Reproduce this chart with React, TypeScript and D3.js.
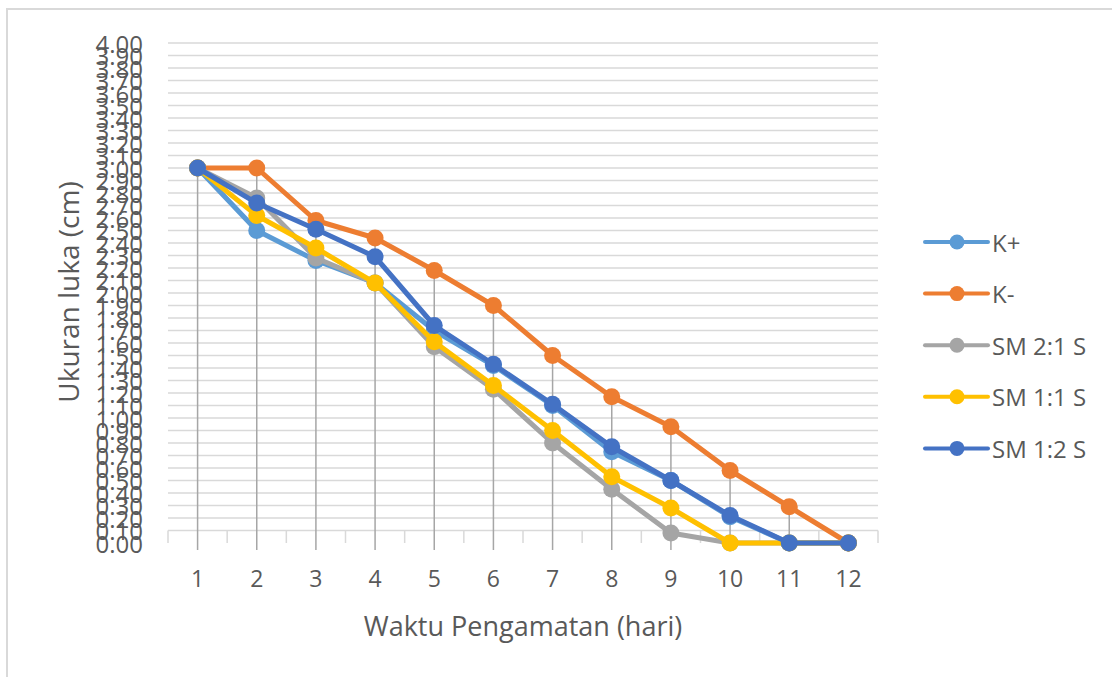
import React from "react";
import * as d3 from "d3";

const days = [1, 2, 3, 4, 5, 6, 7, 8, 9, 10, 11, 12];
const seriesNames = ["K+", "K-", "SM 2:1 S", "SM 1:1 S", "SM 1:2 S"];
const seriesColors = ["#5B9BD5", "#ED7D31", "#A5A5A5", "#FFC000", "#4472C4"];
const kPlus = [3.0, 2.5, 2.26, 2.08, 1.7, 1.42, 1.1, 0.73, 0.5, 0.21, 0, 0];
const kMinus = [3.0, 3.0, 2.58, 2.44, 2.18, 1.9, 1.5, 1.17, 0.93, 0.58, 0.29, 0];
const sm21 = [3.0, 2.76, 2.28, 2.08, 1.57, 1.23, 0.8, 0.43, 0.08, 0, 0, 0];
const sm11 = [3.0, 2.62, 2.36, 2.08, 1.61, 1.26, 0.9, 0.53, 0.28, 0, 0, 0];
const sm12 = [3.0, 2.72, 2.51, 2.29, 1.74, 1.43, 1.11, 0.77, 0.5, 0.22, 0, 0];
const seriesValues = [kPlus, kMinus, sm21, sm11, sm12];
const yTicks = d3.range(0, 41).map((i) => i / 10);

const W = 1112;
const H = 677;
const FONT = "'Open Sans', 'Noto Sans', sans-serif";

export default function App() {
  const left = 168;
  const right = 878;
  const top = 43;
  const bottom = 543;

  const x = d3
    .scaleBand<number>()
    .domain(days)
    .range([left, right]);
  const cx = (d: number) => (x(d) as number) + x.bandwidth() / 2;
  const y = d3.scaleLinear().domain([0, 4]).range([bottom, top]);

  const line = d3
    .line<number>()
    .x((_, i) => cx(days[i]))
    .y((v) => y(v));

  const maxAt = days.map((_, i) => d3.max(seriesValues, (s) => s[i]) as number);

  return (
    <svg
      width={W}
      height={H}
      style={{ position: "absolute", left: 0, top: 0, background: "#fff" }}
      fontFamily={FONT}
    >
      <rect x={7} y={9} width={W + 10} height={H + 10} fill="#fff" stroke="#d9d9d9" strokeWidth={2} />
      {/* gridlines */}
      {yTicks
        .filter((t) => t > 0)
        .map((t) => (
          <line key={"g" + t} x1={left} x2={right} y1={y(t)} y2={y(t)} stroke="#d9d9d9" strokeWidth={1.5} />
        ))}
      {/* category boundary ticks */}
      {d3.range(0, days.length + 1).map((i) => {
        const xx = left + i * x.step();
        return <line key={"t" + i} x1={xx} x2={xx} y1={y(0.1)} y2={bottom} stroke="#d9d9d9" strokeWidth={1.5} />;
      })}
      {/* drop lines */}
      {days.map((d, i) => (
        <line key={"d" + d} x1={cx(d)} x2={cx(d)} y1={y(maxAt[i])} y2={bottom + 7} stroke="#a6a6a6" strokeWidth={1.5} />
      ))}
      {/* y tick labels */}
      {yTicks.map((t) => (
        <text
          key={"yl" + t}
          x={143}
          y={y(t)}
          textAnchor="end"
          dominantBaseline="central"
          fontSize={24}
          fill="#595959"
        >
          {t.toFixed(2)}
        </text>
      ))}
      {/* x tick labels */}
      {days.map((d) => (
        <text key={"xl" + d} x={cx(d)} y={578} textAnchor="middle" dominantBaseline="central" fontSize={23} fill="#595959">
          {d}
        </text>
      ))}
      {/* series */}
      {seriesValues.map((vals, si) => (
        <g key={"s" + si}>
          <path d={line(vals) as string} fill="none" stroke={seriesColors[si]} strokeWidth={5} strokeLinejoin="round" />
          {vals.map((v, i) => (
            <circle key={i} cx={cx(days[i])} cy={y(v)} r={8.5} fill={seriesColors[si]} />
          ))}
        </g>
      ))}
      {/* axis titles */}
      <text x={523} y={625} textAnchor="middle" dominantBaseline="central" fontSize={27} fill="#595959">
        Waktu Pengamatan (hari)
      </text>
      <text
        transform={`translate(68,292) rotate(-90)`}
        textAnchor="middle"
        dominantBaseline="central"
        fontSize={28}
        fill="#595959"
      >
        Ukuran luka (cm)
      </text>
      {/* legend */}
      {seriesNames.map((n, i) => {
        const ly = 242 + i * 51.6;
        return (
          <g key={"lg" + n}>
            <line x1={925} x2={988} y1={ly} y2={ly} stroke={seriesColors[i]} strokeWidth={4} strokeLinecap="round" />
            <circle cx={957} cy={ly} r={7.5} fill={seriesColors[i]} />
            <text x={992} y={ly} dominantBaseline="central" fontSize={24} fill="#595959">
              {n}
            </text>
          </g>
        );
      })}
    </svg>
  );
}
